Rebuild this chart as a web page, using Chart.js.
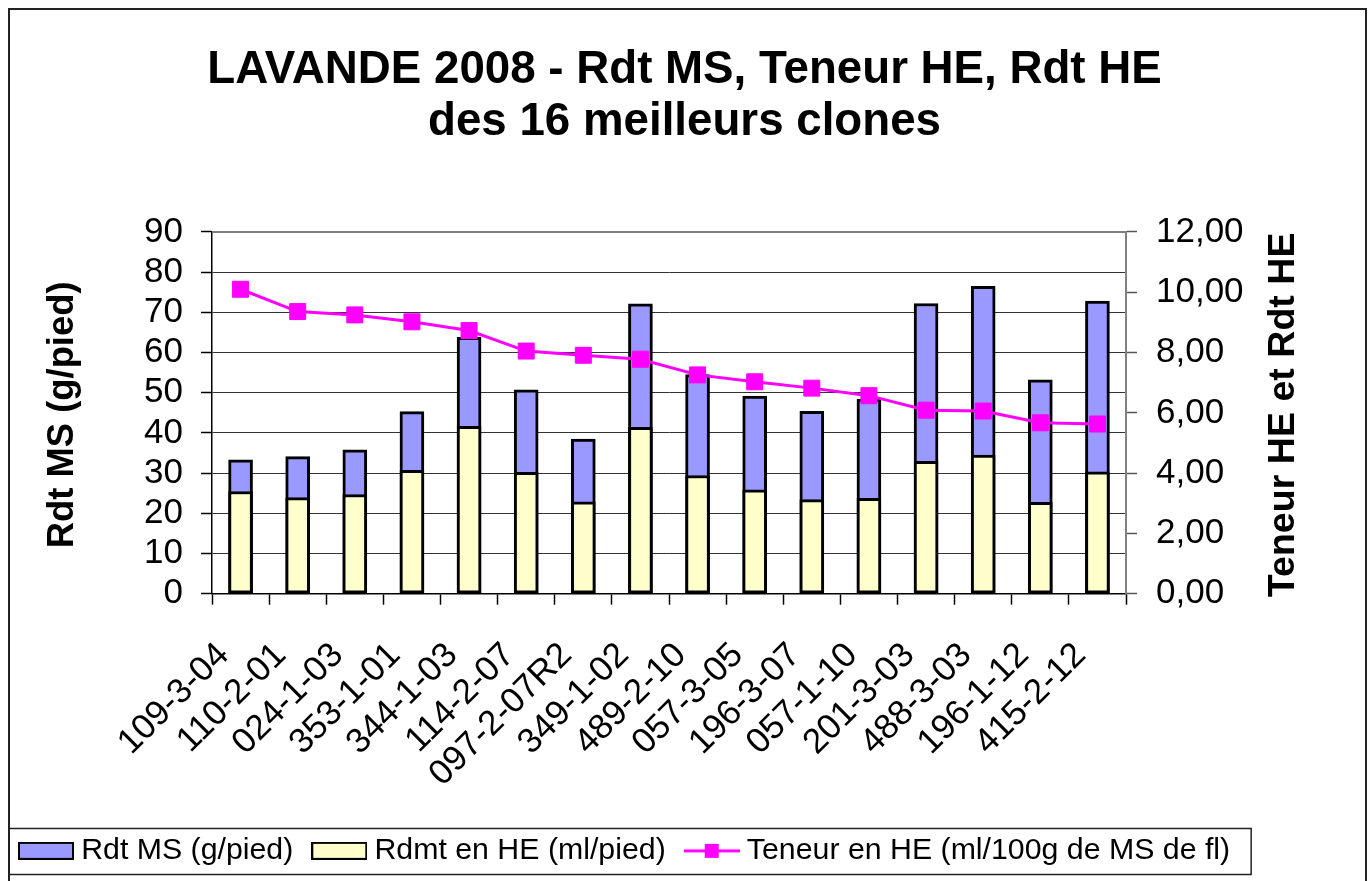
<!DOCTYPE html>
<html>
<head>
<meta charset="utf-8">
<script src="https://cdn.jsdelivr.net/npm/chart.js@4.4.1/dist/chart.umd.min.js"></script>
<style>
html,body{margin:0;padding:0;background:#fff;}
canvas{display:block;}
</style>
</head>
<body>
<canvas id="c" width="1369" height="881"></canvas>
<script>
// ---- data ----
const categories = ['109-3-04','110-2-01','024-1-03','353-1-01','344-1-03','114-2-07','097-2-07R2','349-1-02',
                    '489-2-10','057-3-05','196-3-07','057-1-10','201-3-03','488-3-03','196-1-12','415-2-12'];
const rdtMS    = [33.3, 34.1, 35.8, 45.3, 63.8, 50.7, 38.5, 72.1, 54.5, 49.2, 45.4, 48.4, 72.2, 76.5, 53.2, 72.8];
const rdmtHE   = [3.39, 3.19, 3.29, 4.09, 5.55, 4.03, 3.05, 5.52, 3.92, 3.45, 3.12, 3.16, 4.39, 4.60, 3.03, 4.04];
const teneurHE = [10.10, 9.36, 9.25, 9.02, 8.73, 8.05, 7.91, 7.78, 7.26, 7.03, 6.82, 6.57, 6.09, 6.06, 5.67, 5.63];
const seriesNames = ['Rdt MS (g/pied)', 'Rdmt en HE (ml/pied)', 'Teneur en HE (ml/100g de MS de fl)'];
const titleLines = ['LAVANDE 2008 - Rdt MS, Teneur HE, Rdt HE', 'des 16 meilleurs clones'];
const leftAxisTitle = 'Rdt MS (g/pied)';
const rightAxisTitle = 'Teneur HE et Rdt HE';
const leftTicks = [0, 10, 20, 30, 40, 50, 60, 70, 80, 90];
const rightTicks = [0, 2, 4, 6, 8, 10, 12];

const FONT = "'Liberation Sans', Arial, Helvetica, sans-serif";
Chart.defaults.font.family = FONT;
Chart.defaults.color = '#000';

const BLUE = '#9999FF', YELLOW = '#FFFFCC', MAGENTA = '#FF00FF';

function makeBoxIcon(fill) {
  const c = document.createElement('canvas');
  c.width = 56; c.height = 18;
  const x = c.getContext('2d');
  x.fillStyle = fill; x.fillRect(1, 1, 54, 16);
  x.strokeStyle = '#000'; x.lineWidth = 2; x.strokeRect(1, 1, 54, 16);
  return c;
}
function makeLineIcon() {
  const c = document.createElement('canvas');
  c.width = 56; c.height = 16;
  const x = c.getContext('2d');
  x.strokeStyle = MAGENTA; x.lineWidth = 3;
  x.beginPath(); x.moveTo(0, 8); x.lineTo(56, 8); x.stroke();
  x.fillStyle = MAGENTA; x.fillRect(21, 1, 14, 14);
  return c;
}
const legendIcons = [makeBoxIcon(BLUE), makeBoxIcon(YELLOW), makeLineIcon()];

const framePlugin = {
  id: 'frame',
  beforeDraw(chart) {
    const ctx = chart.ctx;
    ctx.save();
    ctx.fillStyle = '#fff';
    ctx.fillRect(0, 0, chart.width, chart.height);
    ctx.strokeStyle = '#222';
    ctx.lineWidth = 2;
    ctx.strokeRect(9, 9, 1357, 900);
    ctx.restore();
  },
  beforeDatasetsDraw(chart) {
    const {ctx, chartArea: a} = chart;
    ctx.save();
    ctx.strokeStyle = '#808080';
    ctx.lineWidth = 2;
    ctx.beginPath();
    ctx.moveTo(a.left, a.top);
    ctx.lineTo(a.right, a.top);
    ctx.lineTo(a.right, a.bottom);
    ctx.stroke();
    ctx.restore();
  },
  afterDraw(chart) {
    const {ctx, chartArea: a} = chart;
    const cy = (a.top + a.bottom) / 2 + 2;
    ctx.save();
    ctx.fillStyle = '#000';
    ctx.textAlign = 'center';
    ctx.textBaseline = 'middle';
    ctx.font = 'bold 36.4px ' + FONT;
    ctx.save(); ctx.translate(63, cy); ctx.rotate(-Math.PI / 2); ctx.fillText(leftAxisTitle, 0, 0); ctx.restore();
    ctx.font = 'bold 37.6px ' + FONT;
    ctx.save(); ctx.translate(1284, cy); ctx.rotate(-Math.PI / 2); ctx.fillText(rightAxisTitle, 0, 0); ctx.restore();
    // legend frame
    const lg = chart.legend;
    if (lg && lg.legendHitBoxes && lg.legendHitBoxes.length) {
      const hb = lg.legendHitBoxes;
      const last = hb[hb.length - 1];
      const mid = hb[0].top + hb[0].height / 2;
      ctx.strokeStyle = '#222';
      ctx.lineWidth = 1.5;
      ctx.strokeRect(9, Math.round(mid - 23) + 0.5, last.left + last.width + 21 - 9, 46);
    }
    ctx.restore();
  }
};

new Chart(document.getElementById('c'), {
  type: 'bar',
  data: {
    labels: categories,
    datasets: [
      {
        label: seriesNames[0], data: rdtMS, yAxisID: 'y', order: 3,
        backgroundColor: BLUE, borderColor: '#000', borderWidth: 3, borderSkipped: false,
        grouped: false, barThickness: 24
      },
      {
        label: seriesNames[1], data: rdmtHE, yAxisID: 'y1', order: 2,
        backgroundColor: YELLOW, borderColor: '#000', borderWidth: 3, borderSkipped: false,
        grouped: false, barThickness: 24
      },
      {
        type: 'line', label: seriesNames[2], data: teneurHE, yAxisID: 'y1', order: 1,
        borderColor: MAGENTA, borderWidth: 3, backgroundColor: MAGENTA,
        pointStyle: 'rect', pointRadius: 11.3, pointHoverRadius: 11.3,
        pointBackgroundColor: MAGENTA, pointBorderColor: MAGENTA, pointBorderWidth: 1,
        tension: 0, fill: false
      }
    ]
  },
  options: {
    responsive: false,
    animation: false,
    devicePixelRatio: 1,
    layout: { padding: { left: 0, right: 0, top: 0, bottom: 5 } },
    plugins: {
      tooltip: { enabled: false },
      title: {
        display: true,
        text: titleLines,
        color: '#000',
        font: { size: 45.7, weight: 'bold', family: FONT, lineHeight: 1.14 },
        padding: { top: 44, bottom: 83.8 }
      },
      legend: {
        position: 'bottom',
        align: 'start',
        labels: {
          usePointStyle: true,
          pointStyleWidth: 40,
          padding: 26,
          color: '#000',
          font: { size: 30.3, family: FONT },
          generateLabels(chart) {
            return chart.data.datasets.map((ds, i) => ({
              text: ds.label, datasetIndex: i, pointStyle: legendIcons[i],
              fillStyle: 'rgba(0,0,0,0)', strokeStyle: 'rgba(0,0,0,0)', lineWidth: 0,
              hidden: false, fontColor: '#000'
            }));
          }
        }
      }
    },
    scales: {
      x: {
        offset: true,
        grid: { display: true, offset: true, drawOnChartArea: false, drawTicks: true, tickLength: 11, tickColor: '#000', tickWidth: 1.5 },
        border: { display: true, color: '#000', width: 1.5 },
        ticks: { autoSkip: false, maxRotation: 45, minRotation: 45, padding: 30, labelOffset: -17, color: '#000', font: { size: 35, family: FONT } },
        afterFit(scale) { scale.height = 216; }
      },
      y: {
        position: 'left',
        min: leftTicks[0], max: leftTicks[leftTicks.length - 1],
        afterBuildTicks(scale) { scale.ticks = leftTicks.map(v => ({ value: v })); },
        grid: { color: '#333', lineWidth: 1, drawTicks: true, tickLength: 11, tickColor: '#000', tickWidth: 1.5 },
        border: { display: true, color: '#000', width: 1.5 },
        ticks: { autoSkip: false, padding: 18, color: '#000', font: { size: 35, family: FONT } },
        afterFit(scale) { scale.width = 212; }
      },
      y1: {
        position: 'right',
        min: rightTicks[0], max: rightTicks[rightTicks.length - 1],
        afterBuildTicks(scale) { scale.ticks = rightTicks.map(v => ({ value: v })); },
        grid: { drawOnChartArea: false, drawTicks: true, tickLength: 11, tickColor: '#555', tickWidth: 1.5 },
        border: { display: true, color: '#808080', width: 2 },
        ticks: {
          autoSkip: false, padding: 19, color: '#000', font: { size: 35, family: FONT },
          callback: v => v.toFixed(2).replace('.', ',')
        },
        afterFit(scale) { scale.width = 243; }
      }
    }
  },
  plugins: [framePlugin]
});
</script>
</body>
</html>
